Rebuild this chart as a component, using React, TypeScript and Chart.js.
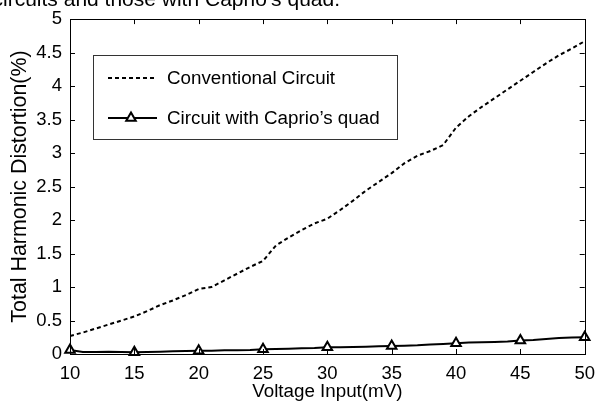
import React, { useEffect, useRef } from "react";
import { Chart, registerables } from "chart.js";

Chart.register(...registerables);

const voltages = [10,11,12,13,14,15,16,17,18,19,20,21,22,23,24,25,26,27,28,29,30,31,32,33,34,35,36,37,38,39,40,41,42,43,44,45,46,47,48,49,50];
const conventional = [0.27,0.32,0.38,0.44,0.50,0.56,0.64,0.73,0.80,0.88,0.97,1.00,1.10,1.20,1.30,1.39,1.62,1.74,1.85,1.95,2.02,2.15,2.29,2.44,2.57,2.70,2.85,2.96,3.03,3.12,3.38,3.55,3.69,3.82,3.95,4.08,4.21,4.34,4.46,4.56,4.67];
const caprio = [0.06,0.03,0.03,0.035,0.03,0.025,0.03,0.035,0.04,0.045,0.05,0.05,0.055,0.055,0.06,0.07,0.075,0.08,0.085,0.09,0.10,0.10,0.105,0.11,0.115,0.12,0.125,0.13,0.14,0.15,0.16,0.17,0.175,0.18,0.185,0.20,0.21,0.225,0.24,0.245,0.25];
const markerEvery = 5;
const seriesLabels = ["Conventional Circuit", "Circuit with Caprio\u2019s quad"];
const xTitle = "Voltage Input(mV)";
const yTitle = "Total Harmonic Distortion(%)";
const caption = "circuits and those with Caprio\u2019s quad.";

const FONT = "'Liberation Sans', Arial, sans-serif";
const FS = 18.5;

const framePlugin = {
  id: "framePlugin",
  afterDraw(chart: any) {
    const ctx = chart.ctx;
    const { left, right, top, bottom } = chart.chartArea;
    const xs = chart.scales.x;
    const ys = chart.scales.y;
    ctx.save();
    ctx.strokeStyle = "#000";
    ctx.lineWidth = 1;
    ctx.strokeRect(Math.round(left) + 0.5, Math.round(top) + 0.5, Math.round(right - left), Math.round(bottom - top));
    const tl = 5;
    ctx.beginPath();
    xs.ticks.forEach((t: any) => {
      const px = Math.round(xs.getPixelForValue(t.value)) + 0.5;
      if (px <= left + 1 || px >= right - 1) return;
      ctx.moveTo(px, bottom);
      ctx.lineTo(px, bottom - tl);
      ctx.moveTo(px, top);
      ctx.lineTo(px, top + tl);
    });
    ys.ticks.forEach((t: any) => {
      const py = Math.round(ys.getPixelForValue(t.value)) + 0.5;
      if (py <= top + 1 || py >= bottom - 1) return;
      ctx.moveTo(left, py);
      ctx.lineTo(left + tl, py);
      ctx.moveTo(right, py);
      ctx.lineTo(right - tl, py);
    });
    ctx.stroke();

    // legend
    const bx = 93, by = 55, bw = 304, bh = 84;
    ctx.fillStyle = "#fff";
    ctx.fillRect(bx, by, bw, bh);
    ctx.strokeStyle = "#333";
    ctx.lineWidth = 1;
    ctx.strokeRect(bx + 0.5, by + 0.5, bw, bh);
    const ds = chart.data.datasets;
    const rows = [78, 118];
    ctx.font = `18.8px ${FONT}`;
    ctx.textBaseline = "middle";
    ctx.textAlign = "left";
    ds.forEach((d: any, i: number) => {
      const y = rows[i];
      ctx.strokeStyle = "#000";
      ctx.lineWidth = 2;
      ctx.setLineDash(d.borderDash || []);
      ctx.beginPath();
      ctx.moveTo(108, y);
      ctx.lineTo(157, y);
      ctx.stroke();
      ctx.setLineDash([]);
      if (i === 1) {
        const r = 5.5;
        const cx = 131;
        ctx.beginPath();
        ctx.moveTo(cx, y - r);
        ctx.lineTo(cx + r * Math.sin(Math.PI / 3 * 2), y - r * Math.cos(Math.PI / 3 * 2));
        ctx.lineTo(cx - r * Math.sin(Math.PI / 3 * 2), y - r * Math.cos(Math.PI / 3 * 2));
        ctx.closePath();
        ctx.fillStyle = "#fff";
        ctx.fill();
        ctx.stroke();
      }
      ctx.fillStyle = "#000";
      ctx.fillText(d.label, 167, y + 1);
    });

    // cut-off caption at the top
    ctx.font = `21px ${FONT}`;
    ctx.textAlign = "right";
    ctx.textBaseline = "alphabetic";
    ctx.fillStyle = "#000";
    ctx.fillText(caption, 340, 5.5);
    ctx.restore();
  },
};

export default function App() {
  const ref = useRef<HTMLCanvasElement | null>(null);
  useEffect(() => {
    document.body.style.margin = "0";
    const canvas = ref.current!;
    const triRadius = voltages.map((v) => (v % markerEvery === 0 ? 5.5 : 0));
    const chart = new Chart(canvas, {
      type: "line",
      data: {
        datasets: [
          {
            label: seriesLabels[0],
            data: voltages.map((v, i) => ({ x: v, y: conventional[i] })),
            borderColor: "#000",
            borderWidth: 2,
            borderDash: [4, 3],
            pointRadius: 0,
            tension: 0,
            fill: false,
          },
          {
            label: seriesLabels[1],
            data: voltages.map((v, i) => ({ x: v, y: caprio[i] })),
            borderColor: "#000",
            borderWidth: 2,
            pointStyle: "triangle",
            pointRadius: triRadius,
            pointBorderWidth: 2,
            pointBackgroundColor: "#fff",
            pointBorderColor: "#000",
            tension: 0,
            fill: false,
            clip: false,
          } as any,
        ],
      },
      options: {
        responsive: false,
        animation: false,
        devicePixelRatio: 1,
        layout: { padding: { top: 18, right: 12, bottom: 0, left: 0 } },
        plugins: { legend: { display: false }, tooltip: { enabled: false } },
        scales: {
          x: {
            type: "linear",
            min: 10,
            max: 50,
            grid: { display: false, drawTicks: false },
            border: { display: false },
            ticks: { stepSize: 5, color: "#000", padding: 9, font: { family: FONT, size: FS } },
            title: { display: true, text: xTitle, color: "#000", padding: { top: 0, bottom: 0 }, font: { family: FONT, size: 18.8 } },
            afterFit: (s: any) => { s.height = 49; },
          },
          y: {
            min: 0,
            max: 5,
            grid: { display: false, drawTicks: false },
            border: { display: false },
            ticks: {
              stepSize: 0.5,
              color: "#000",
              padding: 8,
              font: { family: FONT, size: FS },
              callback: (v: any) => String(Math.round(Number(v) * 10) / 10),
            },
            title: { display: true, text: yTitle, color: "#000", padding: { top: 7, bottom: 0 }, font: { family: FONT, size: 21.4 } },
            afterFit: (s: any) => { s.width = 70; },
          },
        },
      } as any,
      plugins: [framePlugin],
    });
    return () => chart.destroy();
  }, []);
  return <canvas ref={ref} width={604} height={403} style={{ display: "block", width: 604, height: 403 }} />;
}
